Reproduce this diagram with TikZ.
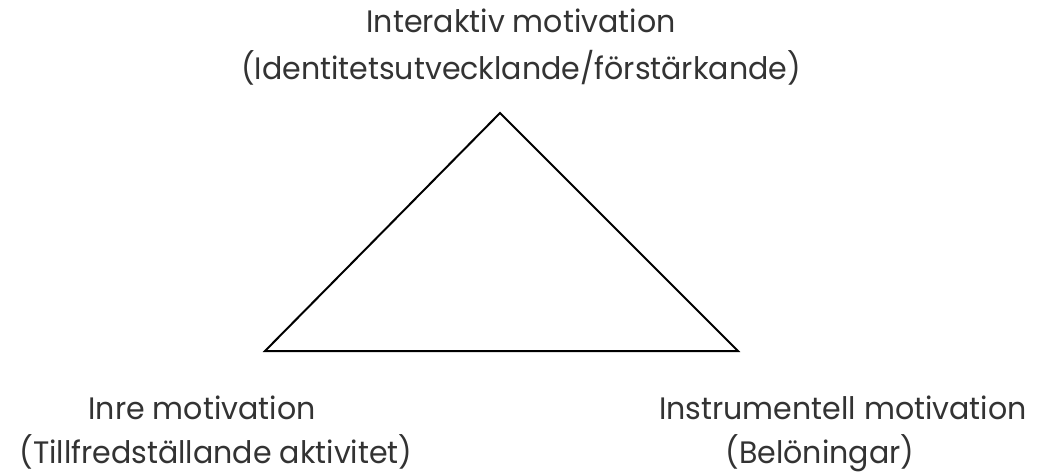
\documentclass[tikz,border=0pt]{standalone}
\usepackage{fontspec}
\setmainfont{Poppins}
\begin{document}
\begin{tikzpicture}[x=1pt,y=-1pt,
  lbl/.style={inner sep=0pt,anchor=base,xscale=0.97,transform shape,font=\fontsize{31}{36}\selectfont\color{black!80}}]
\useasboundingbox[fill=white] (0,0) rectangle (1041,472);
\coordinate (top) at (500,113);
\coordinate (bl) at (265,351);
\coordinate (br) at (738,351);
\draw[line width=2pt,line join=miter] (top) -- (br) -- (bl) -- cycle;
\node[lbl] (t1) at (521,32) {Interaktiv motivation};
\node[lbl] (t2) at (521,79) {(Identitetsutvecklande/förstärkande)};
\node[lbl] (l1) at (202,419) {Inre motivation};
\node[lbl] (l2) at (216,463) {(Tillfredställande aktivitet)};
\node[lbl] (r1) at (843,419) {Instrumentell motivation};
\node[lbl] (r2) at (820,463) {(Belöningar)};
\end{tikzpicture}
\end{document}
